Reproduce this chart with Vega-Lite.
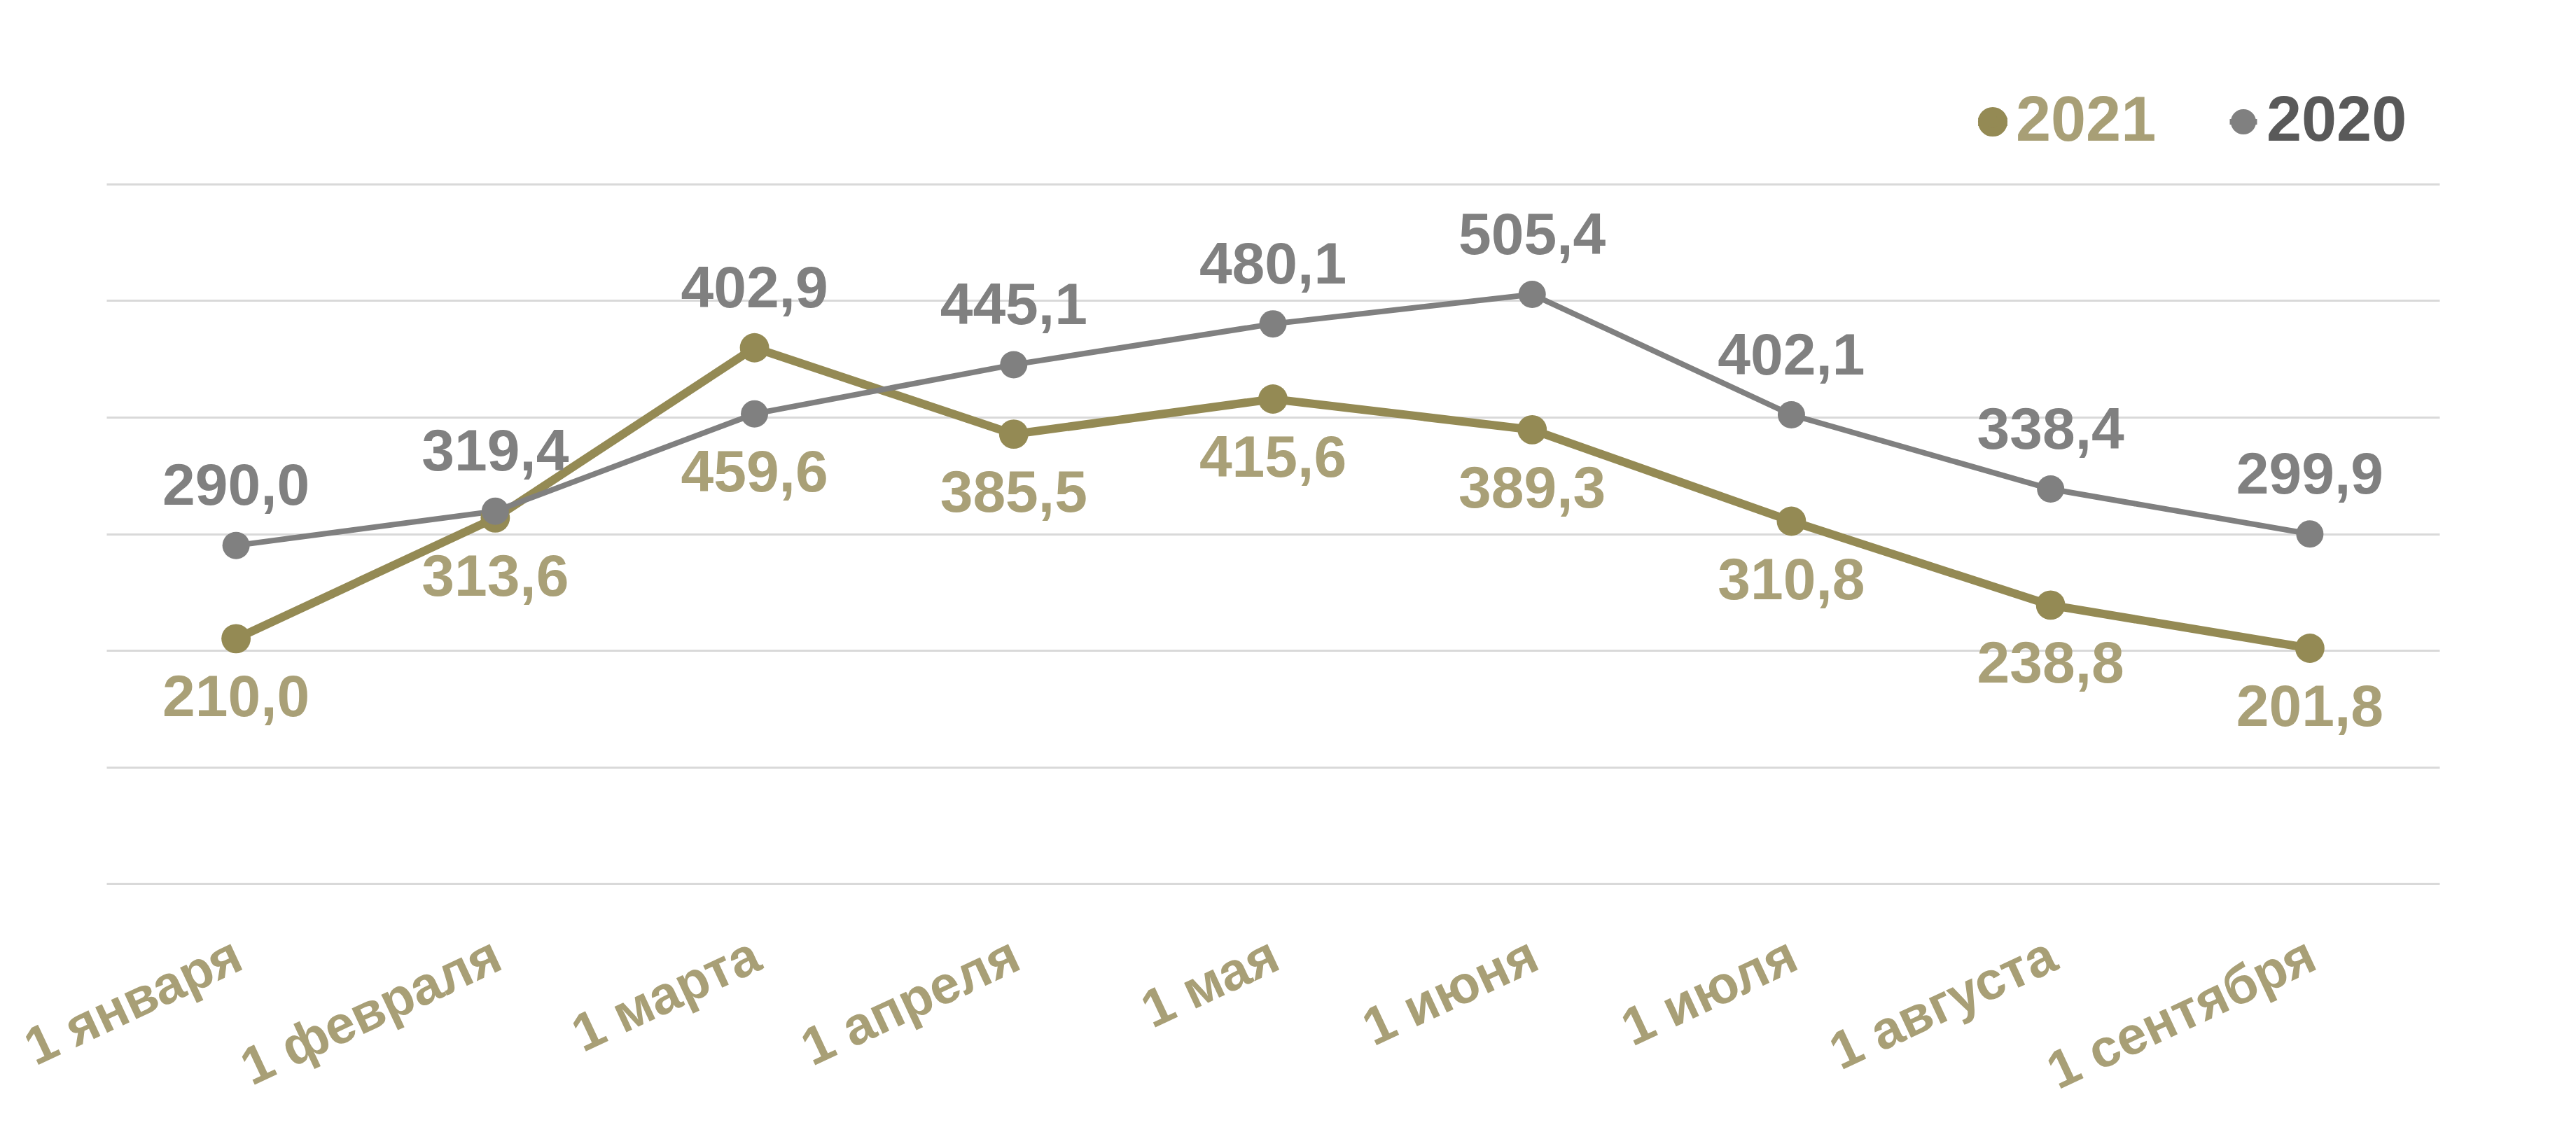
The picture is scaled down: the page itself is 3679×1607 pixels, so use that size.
{
  "$schema": "https://vega.github.io/schema/vega-lite/v6.json",
  "width": 3332,
  "height": 999,
  "autosize": {"type": "none"},
  "padding": {"left": 152, "top": 263, "right": 195, "bottom": 345},
  "background": "white",
  "config": {
    "view": {"stroke": null},
    "font": "Liberation Sans",
    "locale": {"number": {"decimal": ",", "thousands": "\u00a0", "grouping": [3], "currency": ["", "\u00a0₽"]}}
  },
  "data": {
    "values": [
      {"month": "1 января", "year": "2021", "value": 210.0},
      {"month": "1 февраля", "year": "2021", "value": 313.6},
      {"month": "1 марта", "year": "2021", "value": 459.6},
      {"month": "1 апреля", "year": "2021", "value": 385.5},
      {"month": "1 мая", "year": "2021", "value": 415.6},
      {"month": "1 июня", "year": "2021", "value": 389.3},
      {"month": "1 июля", "year": "2021", "value": 310.8},
      {"month": "1 августа", "year": "2021", "value": 238.8},
      {"month": "1 сентября", "year": "2021", "value": 201.8},
      {"month": "1 января", "year": "2020", "value": 290.0},
      {"month": "1 февраля", "year": "2020", "value": 319.4},
      {"month": "1 марта", "year": "2020", "value": 402.9},
      {"month": "1 апреля", "year": "2020", "value": 445.1},
      {"month": "1 мая", "year": "2020", "value": 480.1},
      {"month": "1 июня", "year": "2020", "value": 505.4},
      {"month": "1 июля", "year": "2020", "value": 402.1},
      {"month": "1 августа", "year": "2020", "value": 338.4},
      {"month": "1 сентября", "year": "2020", "value": 299.9}
    ]
  },
  "encoding": {
    "x": {
      "field": "month",
      "type": "ordinal",
      "sort": ["1 января", "1 февраля", "1 марта", "1 апреля", "1 мая", "1 июня", "1 июля", "1 августа", "1 сентября"],
      "scale": {"type": "point", "padding": 0.5},
      "axis": {
        "title": null,
        "ticks": false,
        "domain": false,
        "labelAngle": -25,
        "labelAlign": "right",
        "labelBaseline": "top",
        "labelColor": "#A89F76",
        "labelFontSize": 76,
        "labelFontWeight": "bold",
        "labelPadding": 66,
        "labelOffset": -12,
        "labelLimit": 0
      }
    }
  },
  "layer": [
    {
      "mark": {"type": "line"},
      "encoding": {
        "y": {
          "field": "value",
          "type": "quantitative",
          "scale": {"domain": [0, 600], "nice": false},
          "axis": {
            "title": null,
            "labels": false,
            "ticks": false,
            "domain": false,
            "grid": true,
            "gridColor": "#D9D9D9",
            "gridWidth": 3,
            "values": [0, 100, 200, 300, 400, 500, 600]
          }
        },
        "color": {
          "field": "year",
          "type": "nominal",
          "scale": {"domain": ["2021", "2020"], "range": ["#948A54", "#808080"]},
          "legend": {
            "title": null,
            "orient": "none",
            "legendX": 2649,
            "legendY": -134,
            "direction": "horizontal",
            "symbolType": "M -0.72,0 A 0.72,0.72 0 1,1 0.72,0 A 0.72,0.72 0 1,1 -0.72,0 Z M -1,0 L 1,0",
            "symbolSize": 2800,
            "symbolStrokeWidth": 6,
            "symbolOpacity": 1,
            "symbolFillColor": {"expr": "datum.value === '2021' ? '#948A54' : '#808080'"},
            "symbolStrokeColor": {"expr": "datum.value === '2021' ? '#948A54' : '#808080'"},
            "labelFontSize": 90,
            "labelFontWeight": "bold",
            "labelOffset": -12,
            "labelLimit": 0,
            "columnPadding": 79,
            "labelColor": {"expr": "datum.label === '2021' ? '#A89F76' : '#595959'"}
          }
        },
        "strokeWidth": {
          "field": "year",
          "type": "nominal",
          "scale": {"domain": ["2021", "2020"], "range": [12, 8]},
          "legend": null
        }
      }
    },
    {
      "mark": {"type": "point", "filled": true, "opacity": 1},
      "encoding": {
        "y": {"field": "value", "type": "quantitative"},
        "color": {"field": "year", "type": "nominal"},
        "size": {
          "field": "year",
          "type": "nominal",
          "scale": {"domain": ["2021", "2020"], "range": [1750, 1520]},
          "legend": null
        }
      }
    },
    {
      "transform": [
        {"joinaggregate": [{"op": "max", "field": "value", "as": "top"}], "groupby": ["month"]},
        {"filter": "datum.year === '2020'"}
      ],
      "mark": {"type": "text", "dy": -83, "fontSize": 84, "fontWeight": "bold", "color": "#808080", "baseline": "middle"},
      "encoding": {
        "y": {"field": "top", "type": "quantitative"},
        "text": {"field": "value", "type": "quantitative", "format": ".1f"}
      }
    },
    {
      "transform": [
        {"joinaggregate": [{"op": "min", "field": "value", "as": "bottom"}], "groupby": ["month"]},
        {"filter": "datum.year === '2021'"}
      ],
      "mark": {"type": "text", "dy": 86, "fontSize": 84, "fontWeight": "bold", "color": "#A9A077", "baseline": "middle"},
      "encoding": {
        "y": {"field": "bottom", "type": "quantitative"},
        "text": {"field": "value", "type": "quantitative", "format": ".1f"}
      }
    }
  ]
}
